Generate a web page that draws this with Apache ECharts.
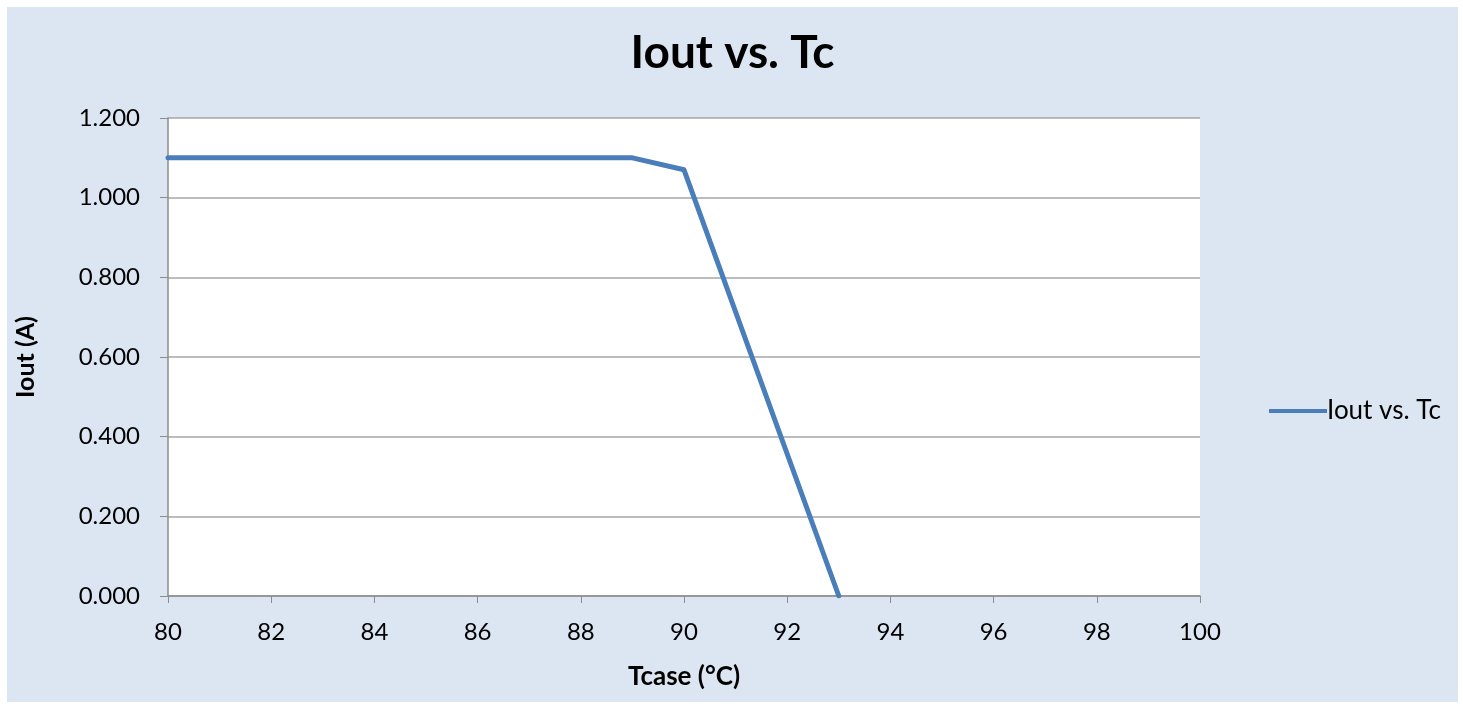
<!DOCTYPE html>
<html><head><meta charset="utf-8">
<script src="https://cdn.jsdelivr.net/npm/echarts@6/dist/echarts.min.js"></script>
<style>
html,body{margin:0;padding:0;background:#fff;width:1463px;height:709px;overflow:hidden}
#c{position:absolute;left:7px;top:7px;width:1451px;height:695px}
</style></head><body><div id="c"></div>
<script>
const tcase = [80, 89, 90, 93];
const iout = [1.1, 1.1, 1.07, 0];
const seriesName = 'Iout vs. Tc';
const titleText = 'Iout vs. Tc';
const xName = 'Tcase (°C)';
const yName = 'Iout (A)';

const font = 'Lato, "Open Sans", sans-serif';
const chart = echarts.init(document.getElementById('c'), null, {renderer:'canvas'});
chart.setOption({
  backgroundColor: '#dce6f2',
  animation: false,
  title: {text: titleText, left: 'center', top: 18,
    textStyle: {fontFamily: font, fontSize: 46, fontWeight: 'bold', color: '#000'}},
  legend: {orient: 'vertical', left: 1257, top: 386, itemWidth: 58, itemHeight: 14, itemGap: 4,
    icon: 'path://M0,5 L58,5 L58,9 L0,9 Z',
    textStyle: {fontFamily: font, fontSize: 26, color: '#000', padding:[0,0,0,-5]},
    data: [seriesName]},
  grid: {left: 161, top: 111, width: 1032, height: 478, show: true, backgroundColor: '#fff', borderWidth: 0,
    containLabel: false, outerBoundsMode: 'none'},
  xAxis: {type: 'value', min: 80, max: 100, interval: 2,
    name: xName, nameLocation: 'middle', nameGap: 68,
    nameTextStyle: {fontFamily: font, fontSize: 26, fontWeight: 'bold', color: '#000'},
    axisLine: {show: true, lineStyle: {color: '#8c8c8c', width: 1.5}},
    axisTick: {show: true, length: 7, inside: false, lineStyle: {color: '#8c8c8c'}},
    axisLabel: {fontFamily: font, fontSize: 24, color: '#000', margin: 24},
    splitLine: {show: false}},
  yAxis: {type: 'value', min: 0, max: 1.2, interval: 0.2,
    name: yName, nameLocation: 'middle', nameGap: 130,
    nameTextStyle: {fontFamily: font, fontSize: 25, fontWeight: 'bold', color: '#000'},
    axisLine: {show: true, lineStyle: {color: '#8c8c8c', width: 1.5}},
    axisTick: {show: true, length: 8, lineStyle: {color: '#8c8c8c'}},
    axisLabel: {fontFamily: font, fontSize: 24, color: '#000', margin: 28,
      formatter: v => v.toFixed(3)},
    splitLine: {show: true, lineStyle: {color: '#a6a6a6', width: 1.5}}},
  series: [{name: seriesName, type: 'line', data: tcase.map((t,i)=>[t, iout[i]]),
    showSymbol: false, symbol: 'none',
    lineStyle: {color: '#4a7ebb', width: 5, cap: 'round', join: 'round'},
    itemStyle: {color: '#4a7ebb'}}]
});
</script></body></html>
